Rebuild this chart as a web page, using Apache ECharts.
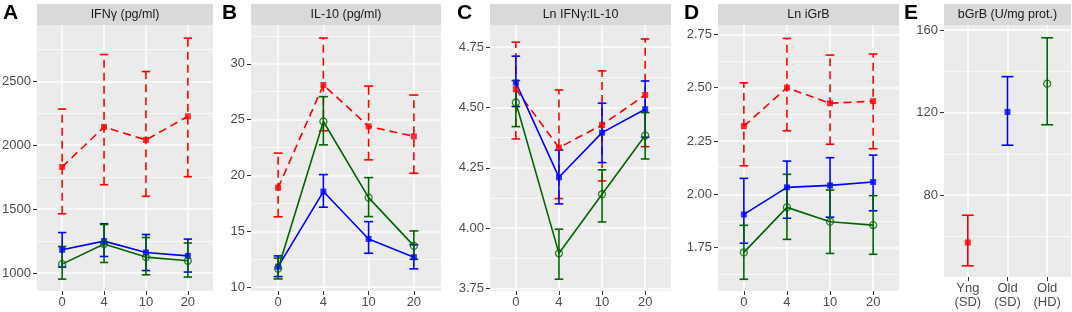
<!DOCTYPE html>
<html>
<head>
<meta charset="utf-8">
<script src="https://cdn.jsdelivr.net/npm/echarts@6/dist/echarts.min.js"></script>
<style>
  html, body { margin: 0; padding: 0; background: #fff; }
  #chart { width: 1072px; height: 312px; }
</style>
</head>
<body>
<div id="chart"></div>
<script>
// x categories
var days = ['0', '4', '10', '20']
var groups = ['Yng\n(SD)', 'Old\n(SD)', 'Old\n(HD)']

// rows: Yng (SD), Old (SD), Old (HD)
// A - IFNγ (pg/ml)
var ifnMean = [[1830, 2143, 2041, 2226], [1182, 1250, 1161, 1135], [1070, 1227, 1125, 1096]]
var ifnLow = [[1464, 1691, 1600, 1754], [1047, 1130, 1020, 1008], [953, 1083, 987, 969]]
var ifnHigh = [[2283, 2709, 2576, 2837], [1317, 1386, 1302, 1266], [1208, 1380, 1278, 1235]]
var ifnTicks = [1000, 1500, 2000, 2500]

// B - IL-10 (pg/ml)
var il10Mean = [[18.9, 28.1, 24.4, 23.5], [11.84, 18.56, 14.32, 12.69], [11.67, 24.83, 18.02, 13.7]]
var il10Low = [[16.3, 24.0, 21.4, 20.2], [10.95, 17.16, 13.04, 11.64], [10.74, 22.74, 16.32, 12.5]]
var il10High = [[22.0, 32.3, 28.0, 27.2], [12.8, 20.08, 15.87, 13.8], [12.6, 27.06, 19.81, 15.04]]
var il10Ticks = [10, 15, 20, 25, 30]

// C - Ln IFNγ:IL-10
var ratioMean = [[4.576, 4.334, 4.428, 4.552], [4.603, 4.211, 4.396, 4.493], [4.521, 3.896, 4.141, 4.384]]
var ratioLow = [[4.370, 4.123, 4.196, 4.338], [4.504, 4.101, 4.272, 4.377], [4.421, 3.789, 4.026, 4.287]]
var ratioHigh = [[4.771, 4.573, 4.652, 4.784], [4.713, 4.324, 4.518, 4.610], [4.612, 3.996, 4.242, 4.479]]
var ratioTicks = [3.75, 4.00, 4.25, 4.50, 4.75]

// D - Ln iGrB
var igrbMean = [[2.320, 2.500, 2.427, 2.437], [1.906, 2.033, 2.042, 2.058], [1.728, 1.939, 1.872, 1.856]]
var igrbLow = [[2.134, 2.298, 2.235, 2.214], [1.771, 1.888, 1.893, 1.923], [1.602, 1.789, 1.723, 1.719]]
var igrbHigh = [[2.523, 2.731, 2.653, 2.658], [2.075, 2.156, 2.172, 2.184], [1.855, 2.094, 2.020, 1.994]]
var igrbTicks = [1.75, 2.00, 2.25, 2.50, 2.75]

// E - bGrB (U/mg prot.)
var bgrbMean = [57.1, 120.3, 134.0]
var bgrbLow = [45.8, 104.2, 114.1]
var bgrbHigh = [70.3, 137.4, 156.2]
var bgrbTicks = [80, 120, 160]

var colors = ['#FF0000', '#0000FF', '#006400']
var FONT = '"Liberation Sans", Arial, sans-serif'

var panels = [
  { letter: 'A', title: 'IFNγ (pg/ml)', left: 37, width: 176, height: 266, min: 860, max: 2940, ticks: ifnTicks, minor: [1250, 1750, 2250, 2750], dec: 0, mean: ifnMean, low: ifnLow, high: ifnHigh, letterX: 3 },
  { letter: 'B', title: 'IL-10 (pg/ml)', left: 251, width: 190, height: 266, min: 9.66, max: 33.47, ticks: il10Ticks, minor: [12.5, 17.5, 22.5, 27.5, 32.5], dec: 0, mean: il10Mean, low: il10Low, high: il10High, letterX: 222 },
  { letter: 'C', title: 'Ln IFNγ:IL-10', left: 490, width: 181, height: 266, min: 3.740, max: 4.842, ticks: ratioTicks, minor: [3.875, 4.125, 4.375, 4.625], dec: 2, mean: ratioMean, low: ratioLow, high: ratioHigh, letterX: 457 },
  { letter: 'D', title: 'Ln iGrB', left: 718, width: 181, height: 266, min: 1.547, max: 2.794, ticks: igrbTicks, minor: [1.625, 1.875, 2.125, 2.375, 2.625], dec: 2, mean: igrbMean, low: igrbLow, high: igrbHigh, letterX: 684 },
  { letter: 'E', title: 'bGrB (U/mg prot.)', left: 944, width: 127, height: 252, min: 40.4, max: 162.4, ticks: bgrbTicks, minor: [60, 100, 140], dec: 0, letterX: 904 }
]

var grid = []
var xAxis = []
var yAxis = []
var series = []
var graphic = []

function errorBars(color, dashed, half) {
  return function (params, api) {
    var x = api.value(0)
    var lo = api.coord([x, api.value(1)])
    var hi = api.coord([x, api.value(2)])
    var l = api.coord([x - half, api.value(1)])[0]
    var r = api.coord([x + half, api.value(1)])[0]
    var cap = { stroke: color, lineWidth: 1.6 }
    return {
      type: 'group',
      children: [
        { type: 'line', shape: { x1: lo[0], y1: lo[1], x2: hi[0], y2: hi[1] }, style: { stroke: color, lineWidth: 1.6, lineDash: dashed ? [8, 5] : null } },
        { type: 'line', shape: { x1: l, y1: lo[1], x2: r, y2: lo[1] }, style: cap },
        { type: 'line', shape: { x1: l, y1: hi[1], x2: r, y2: hi[1] }, style: cap }
      ]
    }
  }
}

function pointStyle(g) {
  if (g === 2) return { symbol: 'circle', symbolSize: 7, itemStyle: { color: 'rgba(0,0,0,0)', borderColor: colors[g], borderWidth: 1.3 } }
  return { symbol: 'rect', symbolSize: 6, itemStyle: { color: colors[g] } }
}

panels.forEach(function (p, i) {
  var cats = p.mean ? days : groups
  var pos = cats.map(function (c, j) { return j + 1 })
  grid.push({ left: p.left, top: 25, width: p.width, height: p.height, show: true, backgroundColor: '#EBEBEB', borderWidth: 0, outerBoundsMode: 'none', containLabel: false })
  xAxis.push({
    gridIndex: i, type: 'value', min: 0.4, max: cats.length + 0.6,
    axisLine: { show: false },
    axisTick: { customValues: pos, length: 4, lineStyle: { color: '#333333', width: 1 } },
    axisLabel: { customValues: pos, color: '#4D4D4D', fontSize: 13, fontFamily: FONT, margin: 4, lineHeight: 14, formatter: function (v) { return cats[Math.round(v) - 1] } },
    splitLine: { show: true, lineStyle: { color: '#FFFFFF', width: 1.5 } }
  })
  yAxis.push({
    gridIndex: i, type: 'value', min: p.min, max: p.max,
    axisLine: { show: false },
    axisTick: { customValues: p.ticks, length: 4, lineStyle: { color: '#333333', width: 1 } },
    axisLabel: { customValues: p.ticks, color: '#4D4D4D', fontSize: 13, fontFamily: FONT, margin: 6, formatter: function (v) { return v.toFixed(p.dec) } },
    splitLine: { show: true, lineStyle: { color: '#FFFFFF', width: 1.5 } }
  })
  yAxis.push({
    gridIndex: i, type: 'value', min: p.min, max: p.max, position: 'left',
    axisLine: { show: false },
    axisTick: { show: false, customValues: p.minor },
    axisLabel: { show: false, customValues: p.minor },
    splitLine: { show: true, lineStyle: { color: '#FFFFFF', width: 0.7 } }
  })
  var yMain = 2 * i
  // strip + letter
  graphic.push({ type: 'rect', shape: { x: p.left, y: 4, width: p.width, height: 21 }, style: { fill: '#D9D9D9' }, silent: true })
  graphic.push({ type: 'text', x: p.left + p.width / 2, y: 14.5, style: { text: p.title, fill: '#1A1A1A', font: '12.5px ' + FONT, align: 'center', verticalAlign: 'middle' }, silent: true })
  graphic.push({ type: 'text', x: p.letterX, y: 3, style: { text: p.letter, fill: '#000000', font: 'bold 21px ' + FONT, align: 'left', verticalAlign: 'top' }, silent: true })

  if (p.mean) {
    p.mean.forEach(function (row, g) {
      series.push({
        type: 'custom', xAxisIndex: i, yAxisIndex: yMain, z: 2, silent: true,
        data: p.low[g].map(function (v, j) { return [j + 1, v, p.high[g][j]] }),
        encode: { x: 0, y: [1, 2] },
        renderItem: errorBars(colors[g], g === 0, 0.1)
      })
    })
    p.mean.forEach(function (row, g) {
      series.push({
        type: 'line', xAxisIndex: i, yAxisIndex: yMain, z: 3, silent: true, showSymbol: false,
        data: row.map(function (v, j) { return [j + 1, v] }),
        lineStyle: { color: colors[g], width: 1.6, type: g === 0 ? [8, 5] : 'solid' }
      })
    })
    p.mean.forEach(function (row, g) {
      series.push(Object.assign({
        type: 'scatter', xAxisIndex: i, yAxisIndex: yMain, z: 4, silent: true,
        data: row.map(function (v, j) { return [j + 1, v] })
      }, pointStyle(g)))
    })
  } else {
    bgrbMean.forEach(function (v, g) {
      series.push({
        type: 'custom', xAxisIndex: i, yAxisIndex: yMain, z: 2, silent: true,
        data: [[g + 1, bgrbLow[g], bgrbHigh[g]]],
        encode: { x: 0, y: [1, 2] },
        renderItem: errorBars(colors[g], false, 0.15)
      })
      series.push(Object.assign({
        type: 'scatter', xAxisIndex: i, yAxisIndex: yMain, z: 4, silent: true,
        data: [[g + 1, v]]
      }, pointStyle(g)))
    })
  }
})

var chart = echarts.init(document.getElementById('chart'))
chart.setOption({
  animation: false,
  backgroundColor: '#FFFFFF',
  grid: grid,
  xAxis: xAxis,
  yAxis: yAxis,
  series: series,
  graphic: graphic
})
</script>
</body>
</html>
